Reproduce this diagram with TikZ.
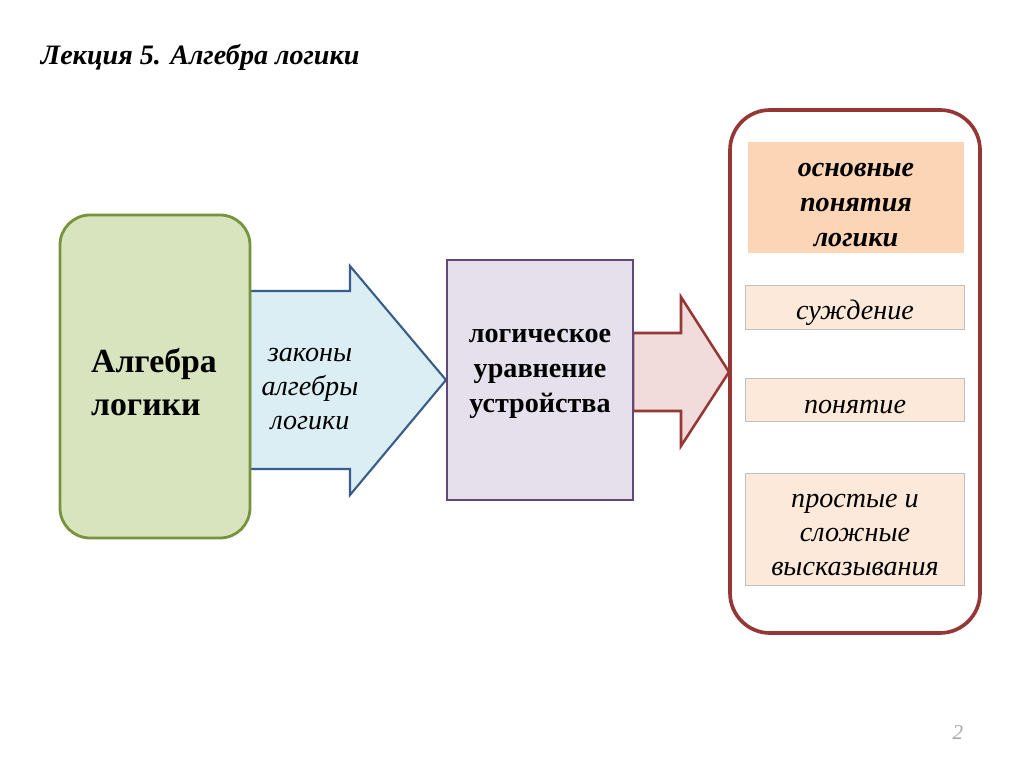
\documentclass[tikz,border=0pt]{standalone}
\usepackage{fontspec}
\setmainfont{Liberation Serif}
\usetikzlibrary{positioning, fit}
\usepackage{xcolor}
\definecolor{green_fill}{HTML}{D7E4BD}
\definecolor{green_line}{HTML}{77933C}
\definecolor{blue_fill}{HTML}{DBEEF4}
\definecolor{blue_line}{HTML}{385D8A}
\definecolor{violet_fill}{HTML}{E5E0EC}
\definecolor{violet_line}{HTML}{5F497A}
\definecolor{red_fill}{HTML}{F2DCDB}
\definecolor{red_line}{HTML}{953735}
\definecolor{peach_dark}{HTML}{FBD5B5}
\definecolor{peach_light}{HTML}{FDE9D9}

\tikzset{
  bigtext/.style={font=\fontsize{24}{30}\selectfont\bfseries, align=left},
  boldtext/.style={font=\fontsize{20}{25}\selectfont\bfseries, align=center},
  slanttext/.style={font=\fontsize{20}{24}\selectfont\itshape, align=center},
  bslanttext/.style={font=\fontsize{20}{25}\selectfont\bfseries\itshape, align=center},
  greenbox/.style={draw=green_line, fill=green_fill, line width=2pt, rounded corners=0.75cm, inner sep=0pt},
  violetbox/.style={draw=violet_line, fill=violet_fill, line width=1.5pt, inner sep=0pt},
  framebox/.style={draw=red_line, fill=white, line width=2.6pt, rounded corners=1cm, inner sep=0pt},
  termbox/.style={draw=black!25, fill=peach_light, line width=0.6pt, inner sep=0pt},
}

\begin{document}
\begin{tikzpicture}[x=0.025cm, y=-0.025cm]

      \useasboundingbox (0,0) rectangle (1024,768);

      % 1. Título
      \node (title) [anchor=west, font=\fontsize{20}{24}\selectfont\bfseries\itshape] at (36,57) {Лекция 5. Алгебра логики};

      % 2. Flechas (debajo de las cajas)
      \filldraw[fill=blue_fill, draw=blue_line, line width=1.5pt, line join=miter]
        (250,291) -- (350,291) -- (350,266) -- (446,380) -- (350,495) -- (350,469) -- (250,469) -- cycle;
      \filldraw[fill=red_fill, draw=red_line, line width=1.8pt, line join=miter]
        (633,333) -- (681,333) -- (681,297) -- (729,372) -- (681,446) -- (681,411) -- (633,411) -- cycle;

      % 3. Cajas principales
      \node (algebra) [greenbox, fit={(60,215) (250,538)}] {};
      \node (algebra_text) [bigtext] at (154,382) {Алгебра\\логики};

      \node (laws) [slanttext] at (310,389) {законы\\алгебры\\логики};

      \node (equation) [violetbox, fit={(447,260) (633,500)}] {};
      \node (equation_text) [boldtext] at (540,374) {логическое\\уравнение\\устройства};

      % 4. Marco derecho con conceptos
      \node (frame) [framebox, fit={(730,110) (980,633)}] {};

      \node (basics) [fill=peach_dark, inner sep=0pt, fit={(748,142) (964,253)}] {};
      \node (basics_text) [bslanttext] at (856,205) {основные\\понятия\\логики};

      \node (judgement) [termbox, fit={(745,285) (964,329)}] {};
      \node (judgement_text) [slanttext] at (855,313) {суждение};

      \node (concept) [termbox, fit={(745,378) (964,421)}] {};
      \node (concept_text) [slanttext] at (855,407) {понятие};

      \node (statements) [termbox, fit={(745,473) (964,585)}] {};
      \node (statements_text) [slanttext] at (855,535) {простые и\\сложные\\высказывания};

      % 5. Número de página
      \node (page) [black!35, font=\fontsize{15}{18}\selectfont\itshape] at (958,733) {2};

\end{tikzpicture}
\end{document}
